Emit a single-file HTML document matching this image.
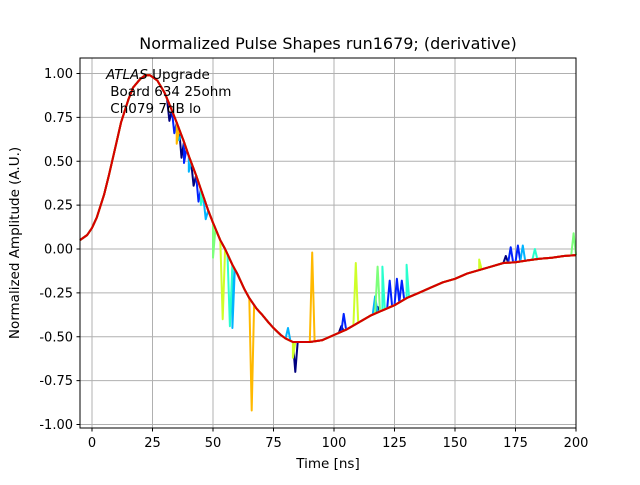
<!DOCTYPE html>
<html><head><meta charset="utf-8"><style>
body{margin:0;background:#fff;}
svg text{font-family:"DejaVu Sans","Liberation Sans",sans-serif;}
</style></head><body>
<svg id="chart" width="640" height="480" viewBox="0 0 640 480">
<rect width="640" height="480" fill="#fff"/>
<text x="328" y="49" font-size="16" text-anchor="middle">Normalized Pulse Shapes run1679; (derivative)</text>
<g id="grid"></g>
<g id="ticks"></g>
<g id="plot"></g>
<rect x="80" y="58" width="496" height="370" fill="none" stroke="#000" stroke-width="1"/>
<text font-size="13.5" x="106" y="79"><tspan font-style="italic">ATLAS</tspan> Upgrade<tspan x="106" dy="17"> Board 634 25ohm</tspan><tspan x="106" dy="17"> Ch079 7dB lo</tspan></text>
<text x="328" y="468" font-size="13.5" text-anchor="middle">Time [ns]</text>
<text x="0" y="0" font-size="13.5" text-anchor="middle" transform="translate(19,243) rotate(-90)">Normalized Amplitude (A.U.)</text>
</svg>
<script>
const xTicks=[0,25,50,75,100,125,150,175,200];
const yTicks=[-1.00,-0.75,-0.50,-0.25,0.00,0.25,0.50,0.75,1.00];
const baseT=[-5,-2,0,2,5,7,10,12,15,17,20,22,24,27,30,33,35,38,40,43,45,48,50,53,55,58,60,63,65,68,70,73,75,78,80,83,85,90,95,100,105,110,115,120,125,130,135,140,145,150,155,160,165,170,175,180,185,190,195,200];
const baseV=[0.05,0.08,0.12,0.18,0.31,0.42,0.60,0.72,0.85,0.92,0.97,0.99,0.99,0.96,0.89,0.79,0.72,0.61,0.53,0.42,0.34,0.22,0.15,0.05,0.0,-0.09,-0.14,-0.23,-0.28,-0.34,-0.37,-0.42,-0.45,-0.49,-0.51,-0.53,-0.53,-0.53,-0.52,-0.49,-0.46,-0.42,-0.38,-0.35,-0.32,-0.28,-0.25,-0.22,-0.19,-0.17,-0.14,-0.12,-0.10,-0.08,-0.075,-0.065,-0.055,-0.05,-0.04,-0.035];
const seriesColors=["#00007f","#0022ff","#00b4ff","#29ffce","#7dff7a","#ceff29","#ffb900","#ff4800","#d40000"];
const spikeT=[[32,37,42,84,103,118,171],[34,38,44,104,123,126,128,173,176],[36,40,47,58,81,117,178],[45,57,120,130,183],[50,118,199],[54,83,109,160],[35,66,91],[],[]];
const spikeV=[[0.73,0.52,0.36,-0.70,-0.44,-0.33,-0.04],[0.66,0.49,0.27,-0.37,-0.18,-0.17,-0.18,0.01,0.02],[0.62,0.44,0.17,-0.45,-0.45,-0.27,0.02],[0.25,-0.44,-0.10,-0.09,0.0],[-0.05,-0.10,0.09],[-0.40,-0.62,-0.08,-0.06],[0.60,-0.92,-0.02],[],[]];
const X=t=>92+(t-0)*2.42;
const Y=v=>249-v*175.5;
const NS="http://www.w3.org/2000/svg";
const grid=document.getElementById('grid'),ticks=document.getElementById('ticks'),plot=document.getElementById('plot');
function mk(tag,attrs,parent){const e=document.createElementNS(NS,tag);for(const k in attrs)e.setAttribute(k,attrs[k]);parent.appendChild(e);return e;}
xTicks.forEach(t=>{
  const l=mk('line',{x1:X(t),x2:X(t),y1:58,y2:428,stroke:'#b0b0b0','stroke-width':1},grid);
  
  
  mk('line',{x1:X(t),x2:X(t),y1:428,y2:431.5,stroke:'#000'},ticks);
  const tx=mk('text',{x:X(t),y:447,'font-size':13,'text-anchor':'middle'},ticks);
  tx.textContent=t;
  
  
});
yTicks.forEach(v=>{
  const l=mk('line',{x1:80,x2:576,y1:Y(v),y2:Y(v),stroke:'#b0b0b0','stroke-width':1},grid);
  
  
  mk('line',{x1:76.5,x2:80,y1:Y(v),y2:Y(v),stroke:'#000'},ticks);
  const tx=mk('text',{x:73,y:Y(v)+4.5,'font-size':13,'text-anchor':'end'},ticks);
  tx.textContent=v.toFixed(2);
  
  
});
function interp(t){for(let i=0;i<baseT.length-1;i++){if(t>=baseT[i]&&t<=baseT[i+1]){const f=(t-baseT[i])/(baseT[i+1]-baseT[i]);return baseV[i]+f*(baseV[i+1]-baseV[i]);}}return baseV[baseV.length-1];}
seriesColors.forEach((c,s)=>{
  const pts=baseT.map((t,i)=>[t,baseV[i]]);
  spikeT[s].forEach((t,j)=>{pts.push([t-1,interp(t-1)]);pts.push([t,spikeV[s][j]]);pts.push([t+1,interp(t+1)]);});
  pts.sort((a,b)=>a[0]-b[0]);
  const d=pts.map((p,i)=>(i?'L':'M')+X(Math.max(-5,Math.min(200,p[0]))).toFixed(1)+','+Y(p[1]).toFixed(1)).join('');
  const p=mk('path',{d:d,fill:'none',stroke:c,'stroke-width':2,'stroke-linejoin':'round'},plot);
  
  
});
</script>
</body></html>
